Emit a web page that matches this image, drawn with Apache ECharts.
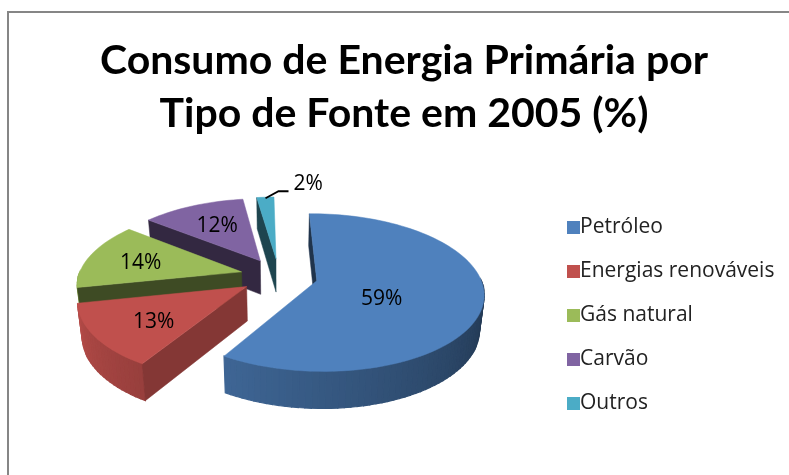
<!DOCTYPE html>
<html><head><meta charset="utf-8">
<style>html,body{margin:0;padding:0;background:#fff}#c{width:789px;height:475px}</style>
<script src="https://cdn.jsdelivr.net/npm/echarts@6/dist/echarts.min.js"></script>
</head><body><div id="c"></div>
<script>
const categories = ['Petróleo','Energias renováveis','Gás natural','Carvão','Outros'];
const values = [59,13,14,12,2];
const titleLines = ['Consumo de Energia Primária por','Tipo de Fonte em 2005 (%)'];

const colors = ['#4f81bd','#c0504d','#9bbb59','#8064a2','#4bacc6'];
const startAngle = -1, explode = 0.238;
const view = {cx:279, cy:276, a:163, b:75.6, k:0.1487, h:34, shrink:0.977};
const radialShade = [0.4,0.69,0.4,0.4,0.4];
const labelPlace = [[17,0.44],[-4,0.66],[-3,0.65],[0,0.61]];
const FONT = 'Open Sans', TITLE_FONT = 'Lato';

const total = values.reduce((s,v)=>s+v,0);
const spans = []; let acc = startAngle;
values.forEach(v=>{ const s=acc, e=acc+v/total*360; spans.push([s,e]); acc=e; });
const rad = d=>d*Math.PI/180;
function world(i,r,deg){
  const mid=(spans[i][0]+spans[i][1])/2;
  return [explode*Math.sin(rad(mid))+r*Math.sin(rad(deg)), -explode*Math.cos(rad(mid))-r*Math.cos(rad(deg))];
}
function pTop(i,r,deg){ const [X,Y]=world(i,r,deg), f=1/(1-view.k*Y); return [view.cx+view.a*X*f, view.cy+view.b*Y*f]; }
function pBot(i,r,deg){ const [X,Y]=world(i,r,deg), f=1/(1-view.k*Y); return [view.cx+view.a*X*f*view.shrink, view.cy+view.b*Y*f+view.h*Math.sqrt(f)]; }
function shade(hex,s){ const n=parseInt(hex.slice(1),16); return 'rgb('+[n>>16,(n>>8)&255,n&255].map(c=>Math.round(c*s)).join(',')+')'; }
function poly(points,fill,lw){ return {type:'polygon',shape:{points},style:{fill,stroke:fill,lineWidth:lw}}; }

function render(i){
  return function(){
    const [s,e]=spans[i], kids=[], steps=Math.max(4,Math.round((e-s)/2)), col=colors[i];
    for(let n=0;n<steps;n++){
      const d0=s+(e-s)*n/steps, d1=s+(e-s)*(n+1)/steps;
      if(Math.cos(rad((d0+d1)/2))>0) continue;
      const sv=Math.min(0.95,Math.max(0.4,0.4+0.0032*((d0+d1)/2-90)));
      kids.push(poly([pTop(i,1,d0),pTop(i,1,d1),pBot(i,1,d1),pBot(i,1,d0)],shade(col,sv),1.2));
    }
    kids.push(poly([pTop(i,1,s),pTop(i,0,s),pBot(i,0,s),pBot(i,1,s)],shade(col,radialShade[i]),0.5));
    const face=[pTop(i,0,s)];
    for(let n=0;n<=steps;n++) face.push(pTop(i,1,s+(e-s)*n/steps));
    kids.push(poly(face,col,0.5));
    const mid=(s+e)/2, txt=values[i]+'%';
    if(labelPlace[i]){
      const p=pTop(i,labelPlace[i][1],mid+labelPlace[i][0]);
      kids.push({type:'text',x:p[0],y:p[1],style:{text:txt,fill:'#000',font:'21px '+FONT,textAlign:'center',textVerticalAlign:'middle'}});
    } else {
      const p=pTop(i,0.98,mid);
      kids.push({type:'polyline',shape:{points:[p,[p[0]+13,p[1]-7],[p[0]+23,p[1]-7]]},style:{stroke:'#000',lineWidth:1.8,fill:'none'}});
      kids.push({type:'text',x:p[0]+28,y:p[1]-14,style:{text:txt,fill:'#000',font:'21px '+FONT,textAlign:'left',textVerticalAlign:'middle'}});
    }
    return {type:'group',children:kids};
  };
}

const chart = echarts.init(document.getElementById('c'),null,{renderer:'canvas'});
chart.setOption({
  animation:false,
  backgroundColor:'#fff',
  title:{text:titleLines.join('\n'),left:399,textAlign:'center',top:29,
    textStyle:{fontFamily:TITLE_FONT,fontWeight:'bold',fontSize:41,lineHeight:53,color:'#000'}},
  legend:{orient:'vertical',left:562,top:212,itemWidth:13,itemHeight:13,itemGap:23,icon:'rect',
    data:categories,selectedMode:false,
    textStyle:{fontFamily:FONT,fontSize:21,color:'#222',padding:[0,0,0,-5],lineHeight:19}},
  graphic:[{type:'polyline',silent:true,shape:{points:[[8,475],[8,12],[789,12]]},style:{stroke:'#868686',lineWidth:2,fill:'none'}}],
  series:[4,3,2,1,0].map(i=>({type:'custom',name:categories[i],coordinateSystem:'none',
    itemStyle:{color:colors[i]},data:[values[i]],renderItem:render(i),z:5-i}))
});
</script></body></html>
